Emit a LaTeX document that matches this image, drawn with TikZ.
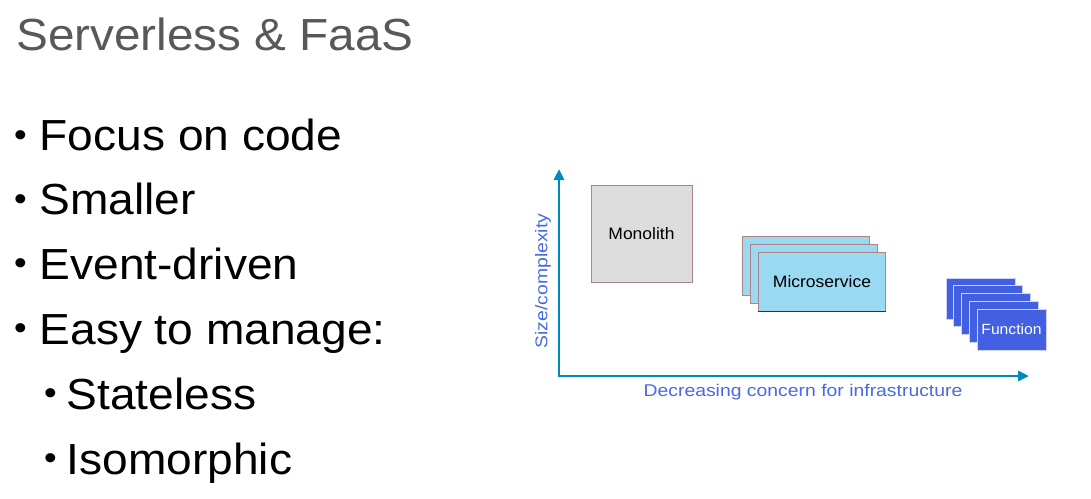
\documentclass[tikz,border=0pt]{standalone}
\usepackage{fontspec}
\setmainfont{Liberation Sans}[FakeStretch=1.06]
\newfontfamily\axfont{Liberation Sans}[FakeStretch=1.14]
\usetikzlibrary{arrows.meta}
\definecolor{axiscol}{RGB}{0,137,190}
\definecolor{labcol}{RGB}{70,105,230}
\definecolor{titlecol}{RGB}{88,88,88}
\definecolor{monofill}{RGB}{221,221,221}
\definecolor{boxline}{RGB}{172,132,132}
\definecolor{microfill}{RGB}{153,217,242}
\definecolor{funcfill}{RGB}{66,96,225}
\definecolor{funcline}{RGB}{205,212,245}
\definecolor{shadowred}{RGB}{125,20,20}
\tikzset{
  bigtext/.style={anchor=base west, inner sep=0pt, font=\fontsize{43.5}{50}\selectfont},
  bul/.style={anchor=base west, inner sep=0pt, font=\fontsize{34}{34}\selectfont},
  boxtext/.style={font=\fontsize{16.5}{19}\selectfont},
  monobox/.style={draw=boxline, fill=monofill, line width=0.8pt, minimum width=101pt, minimum height=97pt, inner sep=0pt, boxtext},
  microbox/.style={draw=boxline, fill=microfill, line width=0.8pt, minimum width=127pt, minimum height=59pt, inner sep=0pt, boxtext},
  funcbox/.style={draw=funcline, fill=funcfill, line width=0.8pt, minimum width=69pt, minimum height=41pt, inner sep=0pt, font=\fontsize{14.8}{17}\selectfont, text=white},
  axisline/.style={draw=axiscol, line width=2.8pt, -{Triangle[length=11pt,width=10pt]}},
  axislabel/.style={text=labcol, font=\axfont\fontsize{17}{20}\selectfont, inner sep=0pt}
}
\begin{document}
\begin{tikzpicture}[x=1pt,y=-1pt]
\useasboundingbox (0,0) rectangle (1091,498);
% title
\node[anchor=base west, inner sep=0pt, text=titlecol, font=\fontsize{45}{50}\selectfont] (title) at (16,50) {Serverless \& FaaS};
% bullets
\node[bul] (b1) at (13.8,146.2) {•};
\node[bigtext] (t1) at (39.5,150) {Focus on code};
\node[bul] (b2) at (13.8,210.2) {•};
\node[bigtext] (t2) at (39.5,214) {Smaller};
\node[bul] (b3) at (13.8,274.2) {•};
\node[bigtext] (t3) at (39.5,279) {Event-driven};
\node[bul] (b4) at (13.8,339.2) {•};
\node[bigtext] (t4) at (39.5,344) {Easy to manage:};
\node[bul] (b5) at (43.8,404.2) {•};
\node[bigtext] (t5) at (66.5,409) {Stateless};
\node[bul] (b6) at (43.8,469.2) {•};
\node[bigtext] (t6) at (66.5,474) {Isomorphic};
% axes
\coordinate (origin) at (559,376);
\coordinate (ytop) at (559,169);
\coordinate (xend) at (1029,376);
\draw[axisline] (origin) -- (ytop);
\draw[axisline] ([xshift=-1.4pt]origin) -- (xend);
\node[axislabel, rotate=90] (ylab) at (543,281) {Size/complexity};
\node[axislabel] (xlab) at (803,392) {Decreasing concern for infrastructure};
% monolith
\node[monobox] (mono) at (641.5,233.5) {Monolith};
% microservices
\node[microbox] (m1) at (806,265.5) {};
\node[microbox] (m2) at (814,273.5) {};
\node[microbox] (m3) at (822,281.5) {Microservice};
\draw[draw=shadowred, line width=0.9pt] (m3.south west) -- (m3.south east);
% functions
\node[funcbox] (f1) at (980.5,298.5) {};
\node[funcbox] (f2) at (988.3,306.3) {};
\node[funcbox] (f3) at (996,314) {};
\node[funcbox] (f4) at (1004,322) {};
\node[funcbox] (f5) at (1011.5,329.5) {Function};
\end{tikzpicture}
\end{document}
